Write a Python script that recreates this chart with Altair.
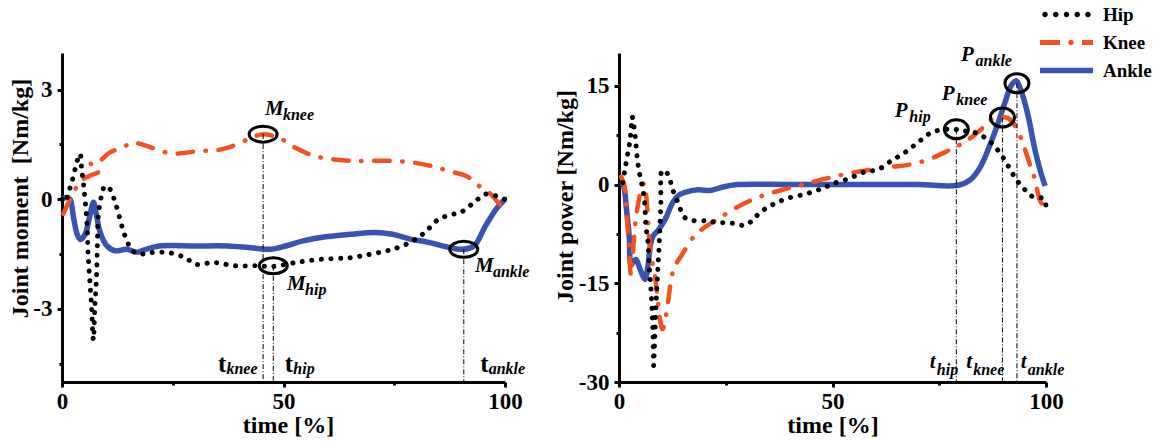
import altair as alt
import pandas as pd

FONT = "'Liberation Serif', Tinos, 'Times New Roman', Times, 'DejaVu Serif', serif"
JOINTS = ["Hip", "Knee", "Ankle"]
COLORS = ["#000000", "#f4511e", "#3953b3"]

# ---------------- Joint moment (left panel) ----------------
m_hip_t = [0, 0.7, 1.5, 2.2, 2.9, 3.7, 4.1, 4.4, 4.8, 5.2, 5.7, 5.9, 6.3, 6.7, 6.9, 7.1, 7.4, 7.8, 8.0, 8.2,
           9.0, 9.7, 10.8, 12.0, 13.1, 14.2, 15.7, 17.2, 20, 24, 27.8, 30.2, 34.3, 39, 44, 47.5, 52.8, 58.5,
           65, 69.8, 74.6, 78.6, 81.9, 85, 88, 90, 93, 95.6, 98, 100]
m_hip_v = [0, -0.08, 0.2, 0.46, 0.8, 1.15, 1.24, 0.88, 0.46, 0.0, -0.82, -1.53, -2.27, -3.0, -3.56, -3.85, -3.0,
           -2.1, -1.2, -0.45, 0.14, 0.36, 0.28, -0.08, -0.55, -1.0, -1.37, -1.5, -1.46, -1.46, -1.6, -1.78,
           -1.73, -1.82, -1.82, -1.84, -1.73, -1.64, -1.6, -1.5, -1.37, -1.18, -0.91, -0.55, -0.42, -0.36,
           -0.09, 0.14, 0.09, 0.0]

m_knee_t = [0.3, 1.8, 3.3, 4.8, 6.7, 8.4, 6.5, 8.6, 10.8, 13.8, 15.7, 18, 21, 24.6, 28, 31, 34.3, 37.5, 42,
            45.4, 49.6, 52.8, 55.5, 58.5, 62, 65.7, 70, 74.6, 79.4, 83, 86, 89, 91.5, 94, 96.4, 98.5, 100]
m_knee_v = [-0.4, 0.0, 0.33, 0.55, 0.66, 0.77, 0.98, 1.06, 1.28, 1.42, 1.55, 1.5, 1.38, 1.25, 1.27, 1.32,
            1.33, 1.41, 1.64, 1.78, 1.64, 1.4, 1.25, 1.14, 1.08, 1.05, 1.05, 1.05, 1.0, 0.92, 0.82, 0.72,
            0.62, 0.38, 0.18, -0.1, -0.3]

m_ankle_t = [0, 1, 1.8, 2.6, 3.4, 4.1, 5.2, 6.2, 7.1, 7.8, 8.6, 10.1, 12, 14.6, 16.9, 19, 22, 30, 37.5, 42,
             47, 50.4, 54.4, 60, 65, 70.5, 74.6, 78.6, 82.7, 86.7, 90.5, 93, 95.6, 98, 100]
m_ankle_v = [0, 0.05, 0.0, -0.5, -0.95, -1.1, -0.96, -0.5, -0.08, -0.45, -0.9, -1.27, -1.41, -1.37, -1.45,
             -1.37, -1.28, -1.28, -1.28, -1.32, -1.37, -1.28, -1.14, -1.02, -0.96, -0.91, -0.96, -1.09,
             -1.18, -1.3, -1.37, -1.28, -0.73, -0.27, 0]

# ---------------- Joint power (right panel) ----------------
p_hip_t = [0.9, 1.4, 2.1, 2.6, 2.9, 3.1, 3.7, 4.0, 4.4, 4.9, 5.6, 6.0, 6.3, 6.8, 7.1, 7.5, 7.8, 8.0, 8.1,
           8.4, 8.7, 9.1, 9.5, 9.8, 10.0, 10.5, 11.5, 12.6, 13.8, 15.4, 17.7, 20.8, 22.3, 26.8, 29.5, 31.3,
           33.1, 35.8, 39.4, 43.9, 47.5, 50.2, 53.8, 57.4, 60.7, 63.7, 67, 70, 73.1, 76.3, 78.7, 80.1, 83.4,
           86.4, 89, 91.1, 93, 95.1, 96.5, 98.1, 99.5, 100]
p_hip_v = [0.3, 2.3, 4.9, 6.8, 9.0, 10.3, 7.9, 5.9, 3.3, 1.4, -0.8, -2.7, -6.2, -8.8, -12.5, -16, -20, -23.5,
           -27.5, -22.9, -18, -13, -7.8, -2.7, 2.0, 2.2, 1.5, -0.8, -2.7, -5.0, -5.5, -5.5, -5.7, -5.9, -6.2,
           -5.4, -4.2, -3.1, -2.1, -1.4, -0.6, 0.15, 0.9, 1.9, 2.3, 3.6, 4.9, 6.4, 7.9, 8.4, 8.4, 8.2, 7.9,
           6.8, 5.0, 2.9, 0.8, -0.8, -1.7, -2.0, -2.1, -3.4]

p_knee_t = [0.5, 1.2, 1.8, 2.3, 2.8, 3.3, 3.9, 4.6, 5.3, 5.9, 6.5, 7.0, 7.5, 8.4, 9.0, 9.6, 10.2, 11, 12.4,
            13, 14.7, 17.4, 19.6, 23.2, 28.6, 34, 39.4, 43.9, 48.4, 53.8, 59.2, 63.7, 67.7, 72.4, 76.3, 79.4,
            81.7, 84.8, 87.1, 89.5, 91.1, 92.7, 93.9, 95.1, 96.3, 97.4, 98.8, 100]
p_knee_v = [1.2, 0.0, -4.5, -9, -13.8, -10, -5.4, -2.5, -0.5, 0.2, -2.6, -7.7, -10.7, -13.8, -17, -20.5, -22,
            -19.9, -13.8, -12.5, -10.7, -8, -6.7, -5.2, -3.1, -1.6, -0.6, 0.15, 0.9, 1.7, 2.3, 2.7, 3.0, 3.8,
            4.9, 5.9, 6.8, 8.4, 9.9, 10.2, 10.1, 9.0, 7.4, 5.3, 2.9, 0.8, -2.7, -3.3]

p_ankle_t = [0.7, 1.2, 1.8, 2.4, 2.8, 3.4, 4.0, 4.8, 6.1, 6.8, 7.4, 8.0, 9.1, 10.8, 12.6, 14, 15.4, 18.5,
             21.4, 24.1, 27.7, 40, 55, 70, 79.4, 82.4, 84.8, 87.1, 88.8, 90.4, 91.8, 93, 94.1, 95.8, 97.4,
             98.8, 99.8]
p_ankle_v = [0.4, -0.5, -4, -8, -12.3, -11.7, -11.4, -12.6, -14.4, -12.2, -9, -7.8, -7.0, -5.3, -2.7, -1.6,
             -1.2, -0.8, -0.9, -0.4, 0, 0, 0, 0, -0.1, 0.8, 2.9, 6.4, 9.4, 12.5, 15, 15.8, 14.4, 10.5, 5.3,
             1.8, -0.2]

# ---------------- annotations ----------------
m_sub = ["knee", "hip", "ankle"]
m_peak_t = [45.4, 47.7, 90.7]
m_peak_v = [1.78, -1.82, -1.37]
m_label_t = [45.8, 50.8, 93.2]
m_label_v = [2.30, -2.47, -2.0]
m_tlabel_t = [35.2, 50.3, 94.4]
m_tlabel_v = [-4.74, -4.74, -4.74]

p_sub = ["hip", "knee", "ankle"]
p_peak_t = [79.0, 89.8, 93.2]
p_peak_v = [8.4, 10.2, 15.4]
p_label_t = [64.6, 75.6, 80.1]
p_label_v = [10.2, 12.9, 18.8]
p_tlabel_t = [72.8, 81.3, 94.1]
p_tlabel_v = [-27.8, -27.8, -27.8]

M_DOMAIN = [-5, 4]
P_DOMAIN = [-30, 20]
M_TICKS = [-4.5, -3, -1.5, 0, 1.5, 3]
P_TICKS = [-30, -22.5, -15, -7.5, 0, 7.5, 15]
X_TICKS = [0, 25, 50, 75, 100]


# ---------------- helpers ----------------
def circ(cx, rad):
    return f"M {cx - rad} 0 A {rad} {rad} 0 1 0 {cx + rad} 0 A {rad} {rad} 0 1 0 {cx - rad} 0 Z"


def rect(x0, x1, h):
    return f"M {x0} {-h} L {x1} {-h} L {x1} {h} L {x0} {h} Z"


HIP_SYM = " ".join(circ(c, 0.19) for c in [-1.48, -0.74, 0, 0.74, 1.48])
KNEE_SYM = rect(-1.83, -0.45, 0.17) + " " + circ(0.31, 0.19) + " " + rect(1.07, 1.83, 0.17)
ANKLE_SYM = rect(-1.83, 1.83, 0.19)
ELL_L = "M -1.4 0 A 1.4 0.8 0 1 0 1.4 0 A 1.4 0.8 0 1 0 -1.4 0 Z"
ELL_R = "M -1.2 0 A 1.2 0.95 0 1 0 1.2 0 A 1.2 0.95 0 1 0 -1.2 0 Z"


def x_enc(title_x):
    return alt.X("time:Q", scale=alt.Scale(domain=[0, 100], nice=False, zero=False),
                 axis=alt.Axis(values=X_TICKS, title="time [%]",
                               labelExpr="datum.value % 50 === 0 ? '' + datum.value : ''",
                               tickSize={"condition": {"test": "datum.value % 50 === 0", "value": 5}, "value": 3},
                               labelFlush=False, labelOverlap=False, labelPadding=3,
                               titleBaseline="alphabetic", titleY=50, titleX=title_x))


def y_enc(domain, ticks, step, title, title_x, title_y):
    return alt.Y("value:Q", scale=alt.Scale(domain=domain, nice=False, zero=False),
                 axis=alt.Axis(values=ticks, title=title,
                               labelExpr=f"datum.value % {step} === 0 ? '' + datum.value : ''",
                               tickSize={"condition": {"test": f"datum.value % {step} === 0", "value": 5}, "value": 3},
                               labelFlush=False, labelOverlap=False, labelPadding=5,
                               titleX=title_x, titleY=title_y, titleBaseline="bottom"))


def panel(series, domain, ticks, step, ytitle, tx, ty, xtx, peaks, labels, tlabels, subs, main, t_font,
          t_style, t_sub_dy, ellipse, main_dx, t_dx, width, legend=False):
    X = x_enc(xtx)
    Y = y_enc(domain, ticks, step, ytitle, tx, ty)
    layers = []
    styles = {
        "Ankle": dict(color=COLORS[2], strokeWidth=5.5),
        "Knee": dict(color=COLORS[1], strokeWidth=4.5, strokeDash=[15.5, 12.5, 0.5, 12.5], strokeCap="round"),
        "Hip": dict(color=COLORS[0], strokeWidth=5, strokeDash=[0.1, 9.5], strokeCap="round"),
    }
    for name in ["Ankle", "Knee", "Hip"]:
        t, v = series[name]
        df = pd.DataFrame({"time": t, "value": v, "i": list(range(len(t)))})
        layers.append(alt.Chart(df).mark_line(interpolate="catmull-rom", **styles[name]).encode(
            x=X, y=Y, order="i:Q"))

    ann = pd.DataFrame({"time": peaks[0], "value": peaks[1], "value2": [domain[0]] * 3})
    layers.append(alt.Chart(ann).mark_rule(color="black", strokeWidth=1, strokeDash=[5, 2, 1, 2]).encode(
        x=X, y=Y, y2="value2:Q"))
    layers.append(alt.Chart(ann).mark_point(shape=ellipse, size=400, filled=False, opacity=1,
                                            color="black", strokeWidth=3).encode(x=X, y=Y))

    lab = pd.DataFrame({"time": labels[0], "value": labels[1], "main": [main] * 3, "sub": subs})
    layers.append(alt.Chart(lab).mark_text(font=FONT, fontSize=21, fontWeight="bold", fontStyle="italic",
                                           align="left", baseline="alphabetic", color="black").encode(
        x=X, y=Y, text="main:N"))
    layers.append(alt.Chart(lab).mark_text(font=FONT, fontSize=16, fontWeight="bold", fontStyle="italic",
                                           align="left", baseline="alphabetic", color="black",
                                           dx=main_dx, dy=5).encode(x=X, y=Y, text="sub:N"))

    tl = pd.DataFrame({"time": tlabels[0], "value": tlabels[1], "main": ["t"] * 3, "sub": subs})
    layers.append(alt.Chart(tl).mark_text(font=FONT, fontSize=t_font, fontWeight="bold", fontStyle=t_style,
                                          align="left", baseline="alphabetic", color="black").encode(
        x=X, y=Y, text="main:N"))
    layers.append(alt.Chart(tl).mark_text(font=FONT, fontSize=16, fontWeight="bold", fontStyle="italic",
                                          align="left", baseline="alphabetic", color="black",
                                          dx=t_dx, dy=t_sub_dy).encode(x=X, y=Y, text="sub:N"))

    if legend:
        leg = pd.DataFrame({"time": [0, 0, 0], "value": [0, 0, 0], "joint": JOINTS})
        lg = alt.Legend(title=None, orient="none", legendX=433, legendY=-53, symbolSize=841,
                        symbolStrokeWidth=0, labelOffset=22, labelFont=FONT, labelFontSize=19,
                        labelFontWeight="bold", labelColor="black", rowPadding=3)
        layers.append(alt.Chart(leg).mark_point(filled=True, opacity=1).encode(
            x=X, y=Y,
            fill=alt.Fill("joint:N", scale=alt.Scale(domain=JOINTS, range=COLORS), legend=lg),
            shape=alt.Shape("joint:N", scale=alt.Scale(domain=JOINTS, range=[HIP_SYM, KNEE_SYM, ANKLE_SYM]),
                            legend=lg),
        ).transform_filter("false"))

    return alt.layer(*layers).properties(width=width, height=329)


left = panel({"Hip": (m_hip_t, m_hip_v), "Knee": (m_knee_t, m_knee_v), "Ankle": (m_ankle_t, m_ankle_v)},
             M_DOMAIN, M_TICKS, 3, "Joint moment\u00a0 [Nm/kg]", -30, 145, 226,
             (m_peak_t, m_peak_v), (m_label_t, m_label_v), (m_tlabel_t, m_tlabel_v), m_sub, "M",
             25, "normal", 2, ELL_L, 18, 8.5, 443)

right = panel({"Hip": (p_hip_t, p_hip_v), "Knee": (p_knee_t, p_knee_v), "Ankle": (p_ankle_t, p_ankle_v)},
              P_DOMAIN, P_TICKS, 15, "Joint power [Nm/kg]", -42, 143, 213.5,
              (p_peak_t, p_peak_v), (p_label_t, p_label_v), (p_tlabel_t, p_tlabel_v), p_sub, "P",
              21, "italic", 7, ELL_R, 14.5, 7, 427, legend=True)

chart = alt.hconcat(left, right, spacing=114, bounds="flush").resolve_scale(
    x="independent", y="independent", fill="independent", shape="independent"
).configure_view(stroke=None).configure_axis(
    domainColor="black", domainWidth=3, tickColor="black", tickWidth=3, grid=False,
    labelFont=FONT, labelFontSize=23, labelFontWeight="bold", labelColor="black",
    titleFont=FONT, titleFontSize=24, titleFontWeight="bold", titleColor="black",
).properties(padding={"left": 7, "top": 0, "right": 5, "bottom": 5}, background="white")

chart.save("out.html", embed_options={"renderer": "svg", "actions": False})
